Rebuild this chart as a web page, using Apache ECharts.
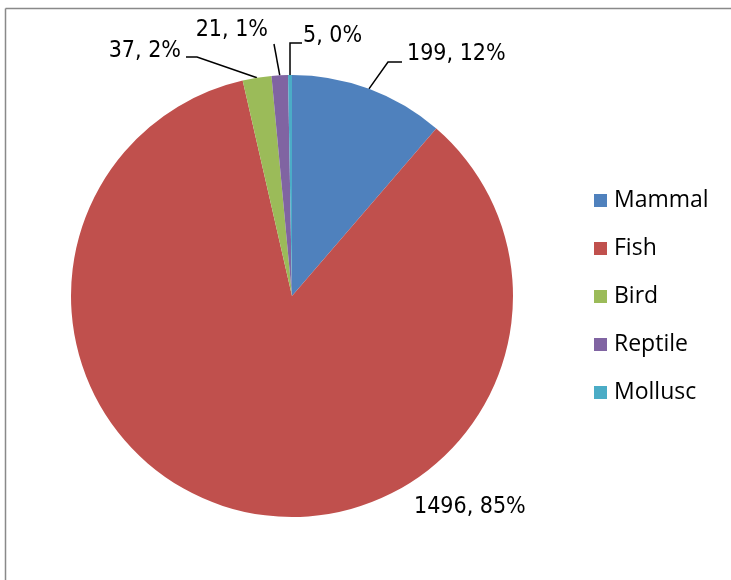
<!DOCTYPE html>
<html><head><meta charset="utf-8">
<script src="https://cdn.jsdelivr.net/npm/echarts@6/dist/echarts.min.js"></script>
<style>html,body{margin:0;padding:0;background:#fff}#c{width:731px;height:580px}</style>
</head><body><div id="c"></div>
<script>
var categories = ['Mammal', 'Fish', 'Bird', 'Reptile', 'Mollusc'];
var values = [199, 1496, 37, 21, 5];
var percentLabels = ['12%', '85%', '2%', '1%', '0%'];
var colors = ['#4F81BD', '#C0504D', '#9BBB59', '#8064A2', '#4BACC6'];

// label placement (style/layout config): text anchor, alignment, and leader-line bend/end
var labelPlacement = [
  { x: 407, y: 54, align: 'left', bend: [388, 62], end: [402, 62] },
  { x: 414, y: 507, align: 'left' },
  { x: 181, y: 51, align: 'right', bend: [197, 57], end: [186, 57] },
  { x: 268, y: 30, align: 'right', end: [274, 44] },
  { x: 303, y: 36, align: 'left', bend: [290, 43], end: [302, 43] }
];

var LABEL_FONT = "'DejaVu Sans Condensed', 'Liberation Sans', sans-serif";
var chart = echarts.init(document.getElementById('c'));
var data = categories.map(function (n, i) {
  var d = { name: n, value: values[i], itemStyle: { color: colors[i] } };
  if (!labelPlacement[i].end) { d.labelLine = { show: false }; }
  return d;
});
chart.setOption({
  animation: false,
  graphic: [
    { type: 'line', shape: { x1: 5.5, y1: 8.5, x2: 731, y2: 8.5 }, style: { stroke: '#898989', lineWidth: 1.5 } },
    { type: 'line', shape: { x1: 5.5, y1: 8.5, x2: 5.5, y2: 580 }, style: { stroke: '#898989', lineWidth: 1.5 } }
  ],
  legend: {
    orient: 'vertical', left: 589, top: 184,
    itemWidth: 13, itemHeight: 13, itemGap: 25, icon: 'rect',
    textStyle: { fontFamily: 'Open Sans', fontSize: 23, color: '#000', padding: [0, 0, 0, 2] },
    data: categories
  },
  series: [{
    type: 'pie', center: [292, 296], radius: 221, startAngle: 90, clockwise: true,
    avoidLabelOverlap: false, minShowLabelAngle: 0,
    label: {
      show: true, position: 'outside', color: '#000',
      fontFamily: LABEL_FONT, fontSize: 23,
      formatter: function (p) { return p.value + ', ' + percentLabels[p.dataIndex]; }
    },
    labelLine: { show: true, length: 20, length2: 14, lineStyle: { color: '#000', width: 1.5 } },
    labelLayout: function (params) {
      var cfg = labelPlacement[params.dataIndex];
      var out = { x: cfg.x, y: cfg.y, align: cfg.align, verticalAlign: 'middle', hideOverlap: false, moveOverlap: false };
      if (cfg.end && params.labelLinePoints) {
        var pts = [params.labelLinePoints[0]];
        if (cfg.bend) pts.push(cfg.bend);
        pts.push(cfg.end);
        out.labelLinePoints = pts;
      }
      return out;
    },
    data: data
  }]
});
</script></body></html>
